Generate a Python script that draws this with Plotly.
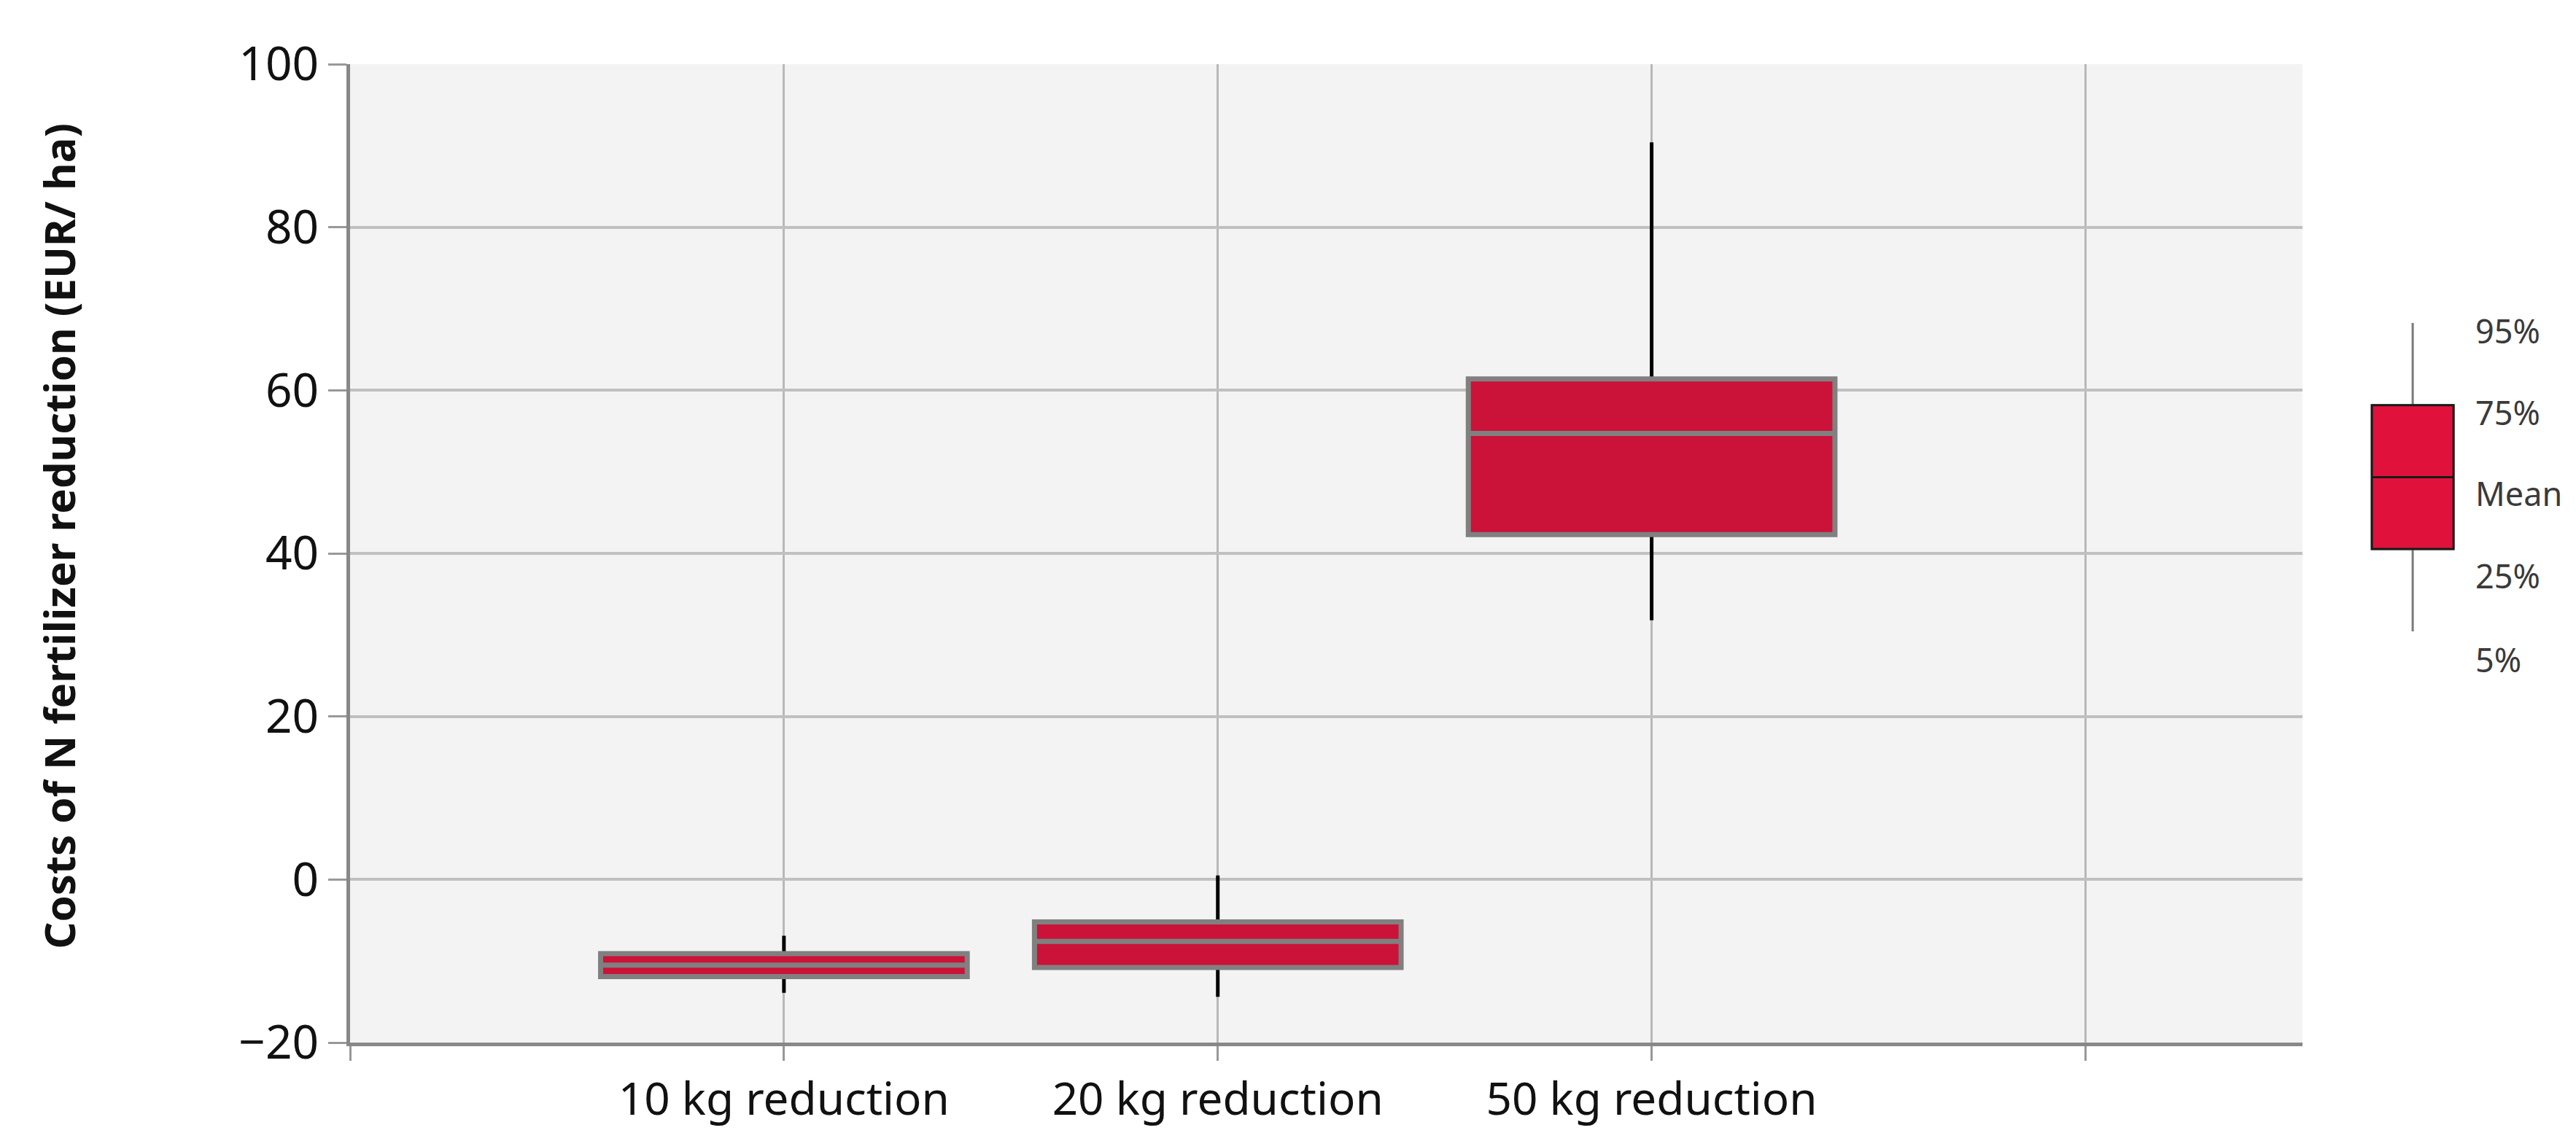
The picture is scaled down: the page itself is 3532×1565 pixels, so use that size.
import plotly.graph_objects as go

# ---- data ----
categories = ["10 kg reduction", "20 kg reduction", "50 kg reduction"]
cat_pos = [1, 2, 3]
p5 = [-13.9, -14.4, 31.8]
p25 = [-11.9, -10.8, 42.3]
mean_vals = [-10.5, -7.6, 54.7]
p75 = [-9.1, -5.2, 61.4]
p95 = [-6.9, 0.5, 90.4]

x_tickvals = [0, 1, 2, 3, 4]
x_ticktext = [""] + categories + [""]
y_tickvals = [-20, 0, 20, 40, 60, 80, 100]
y_title = "Costs of N fertilizer reduction (EUR/ ha)"

# legend key (schematic box)
key_stats = {"p5": 5, "p25": 29, "mean": 50, "p75": 71, "p95": 95}
key_labels = ["95%", "75%", "Mean", "25%", "5%"]
key_label_y = [92.7, 69.0, 45.2, 21.2, -3.3]

FONT = "Noto Sans"
BOX_FILL = "#CB1238"
KEY_FILL = "#E0123C"

fig = go.Figure()

# whiskers (black)
fig.add_trace(go.Box(
    x=cat_pos, q1=p25, median=mean_vals, q3=p75,
    lowerfence=p5, upperfence=p95,
    width=0.845, whiskerwidth=0, boxpoints=False,
    fillcolor=BOX_FILL, line=dict(color="#000000", width=5),
    hoverinfo="skip", showlegend=False, xaxis="x", yaxis="y",
))
# boxes (grey outline)
fig.add_trace(go.Box(
    x=cat_pos, q1=p25, median=mean_vals, q3=p75,
    lowerfence=p25, upperfence=p75,
    width=0.845, whiskerwidth=0, boxpoints=False,
    fillcolor=BOX_FILL, line=dict(color="#808080", width=7),
    hoverinfo="skip", showlegend=False, xaxis="x", yaxis="y",
))

# legend key
fig.add_trace(go.Box(
    x=[0.455], q1=[key_stats["p25"]], median=[key_stats["mean"]], q3=[key_stats["p75"]],
    lowerfence=[key_stats["p5"]], upperfence=[key_stats["p95"]],
    width=0.509, whiskerwidth=0, boxpoints=False,
    fillcolor=KEY_FILL, line=dict(color="#7a7a7a", width=3),
    hoverinfo="skip", showlegend=False, xaxis="x2", yaxis="y2",
))
fig.add_trace(go.Box(
    x=[0.455], q1=[key_stats["p25"]], median=[key_stats["mean"]], q3=[key_stats["p75"]],
    lowerfence=[key_stats["p25"]], upperfence=[key_stats["p75"]],
    width=0.509, whiskerwidth=0, boxpoints=False,
    fillcolor=KEY_FILL, line=dict(color="#1a1a1a", width=3),
    hoverinfo="skip", showlegend=False, xaxis="x2", yaxis="y2",
))

annotations = []
for lab, yv in zip(key_labels, key_label_y):
    annotations.append(dict(
        x=0.836, y=yv, xref="x2", yref="y2", text=lab, showarrow=False,
        xanchor="left", yanchor="middle",
        font=dict(family=FONT, size=45, color="#3a3a3a"),
    ))
annotations.append(dict(
    x=-0.1304, y=0.518, xref="paper", yref="paper",
    text="<b>" + y_title + "</b>", textangle=-90, showarrow=False,
    xanchor="center", yanchor="middle",
    font=dict(family=FONT, size=58, color="#111111"),
))

fig.update_layout(
    width=3532, height=1565,
    margin=dict(l=472, r=0, t=80, b=143),
    paper_bgcolor="white",
    plot_bgcolor="rgba(0,0,0,0)",
    boxmode="overlay",
    showlegend=False,
    annotations=annotations,
    shapes=[dict(type="rect", xref="x domain", yref="y domain",
                 x0=0, x1=1, y0=0, y1=1, fillcolor="#F3F3F3",
                 line=dict(width=0), layer="below")],
    xaxis=dict(
        domain=[0, 0.8748], range=[0, 4.5],
        tickmode="array", tickvals=x_tickvals, ticktext=x_ticktext,
        showgrid=True, gridcolor="#B8B8B8", gridwidth=3,
        showline=True, linecolor="#888888", linewidth=5,
        ticks="outside", ticklen=20, tickwidth=3, tickcolor="#999999",
        tickfont=dict(family=FONT, size=62, color="#111111"),
        zeroline=False, fixedrange=True,
    ),
    yaxis=dict(
        range=[-20, 100], tickmode="array", tickvals=y_tickvals,
        showgrid=True, gridcolor="#C0C0C0", gridwidth=4,
        showline=True, linecolor="#888888", linewidth=5,
        ticks="outside", ticklen=25, tickwidth=3, tickcolor="#999999",
        tickfont=dict(family=FONT, size=64, color="#111111"),
        zeroline=False, fixedrange=True,
    ),
    xaxis2=dict(
        domain=[0.8915, 0.9634], range=[0, 1], anchor="y2",
        visible=False, fixedrange=True,
    ),
    yaxis2=dict(
        domain=[0, 1], range=[-115.0, 170.5], anchor="x2",
        visible=False, fixedrange=True,
    ),
)

fig.write_html("out.html", config={"displayModeBar": False})
